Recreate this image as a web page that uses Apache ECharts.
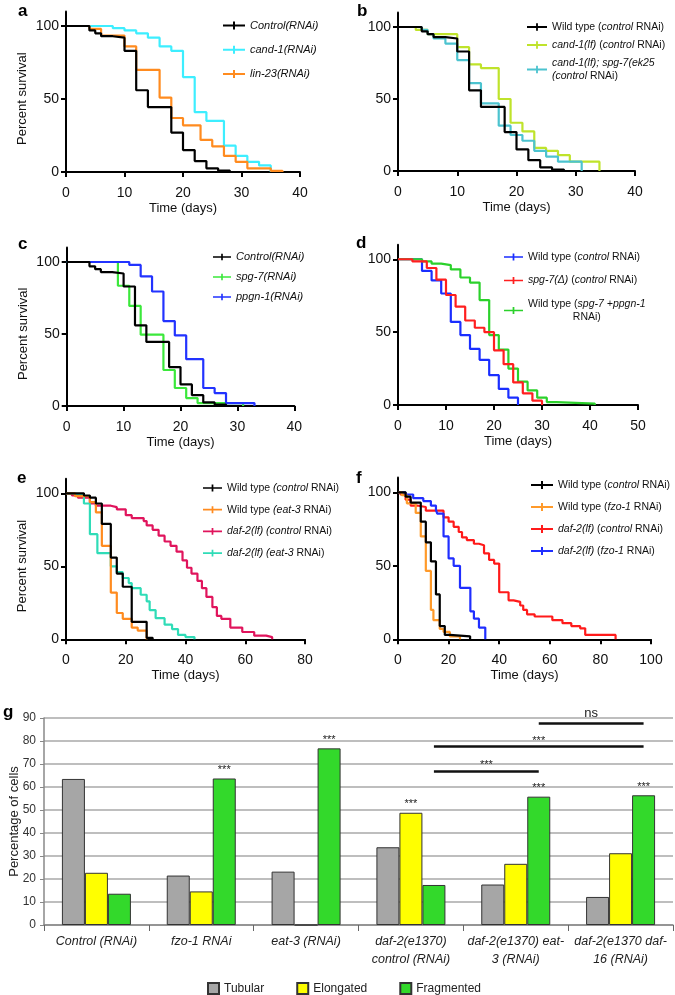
<!DOCTYPE html>
<html><head><meta charset="utf-8">
<script src="https://cdn.jsdelivr.net/npm/echarts@6/dist/echarts.min.js"></script>
<style>html,body{margin:0;padding:0;background:#fff}#c{width:675px;height:995px}</style>
</head><body><div id="c"></div>
<script>
// ---------- DATA: survival curves [day, percent survival] ----------
const controlRNAi = [[0,100],[4,97],[5,95],[6,93],[8,92],[10,83],[12,56],[14,44.5],[18,27],[20,15],[22,7.5],[24,2.5],[26,1],[28,0]];
const cand1RNAi = [[0,100],[8,98.5],[10,97],[12,95],[14,92],[16,86],[18,83],[20,65],[22,41],[24,35],[27,18],[29,11],[31,7],[33,4.5],[35,0]];
const lin23RNAi = [[0,100],[4,98],[6,93.5],[10,86],[12,70],[16,51],[18,37],[20,32],[23,22],[25,17.5],[27,11],[29,7],[31,2.5],[35,0.8],[37,0]];
const cand1lf = [[0,100],[3,98],[5,95],[10,86],[12,74],[14,71.5],[17,50],[19,33.5],[21,27.5],[23,16],[25,14],[27,11],[29,6.5],[34,0]];
const cand1spg7 = [[0,100],[4,98],[5,95],[6,92],[8,88.5],[10,77],[12,61],[14,47],[17,31.5],[19,25],[21,21],[23,14],[25,10],[27,6.5],[31,0]];
const spg7RNAi = [[0,100],[9,83.5],[11,69.5],[13,49.5],[17,25],[19,12.5],[21,5.5],[23,2],[31,0]];
const ppgn1RNAi = [[0,100],[11,98],[13,90],[15,79.5],[17,59],[19,49],[21,32.5],[24,12.5],[26,9],[28,2],[33,0]];
const dWildType = [[0,100],[5,92],[7,85.5],[9,76.5],[11,57],[13,48],[15,38.5],[17,31],[19,20.5],[21,11],[23,5],[25,0]];
const dSpg7Delta = [[0,100],[3,98.5],[6,94],[8,86],[10,75.5],[12,67.5],[14,58],[16,53],[18,50],[20,37.5],[22,28],[24,15.5],[26,8],[28,3],[30,0]];
const dWtSpg7Ppgn1 = [[0,100],[5,98.5],[7,97],[9,96],[11,93],[13,87.5],[15,84],[17,72],[19,48],[21,38],[23,25],[25,16],[27,10],[29,5],[31,2],[33,1],[41,0]];
const eWtControl = [[0,100],[6,98.5],[8,97],[10,93],[12,79],[15,56],[17,45],[19,36],[22,12],[27,1],[29,0]];
const eWtEat3 = [[0,100],[3,98],[8,94],[10,87],[12,64],[15,32],[17,18],[19,14],[22,8],[24,6],[27,0]];
const eDaf2Control = [[0,100],[2,98.5],[4,97],[8,93],[10,91.5],[15,90.5],[17,89],[20,85],[22,83],[26,81],[27,78],[29,75],[31,71],[33,67],[35,64],[37,60],[39,54],[40.5,49],[42,45],[44,40],[45.5,35],[47,29],[49,22],[50.5,16],[52,14],[55,8],[59,5],[63,2.5],[67,1.5],[69,0]];
const eDaf2Eat3 = [[0,100],[2,99],[6,93],[8,72],[10.5,59],[15,50],[17,46],[19,42],[21,38.5],[22,35],[25,30.5],[27,26],[28,20],[30,14.5],[33,10],[35.5,7],[37.5,3],[40,1.5],[43,0]];
const fWtControl = [[0,100],[3,97],[5,93],[9,80],[11,66],[13,53],[15,30.5],[16.5,9],[18.5,3],[20.5,2],[28.5,0]];
const fWtFzo1 = [[0,100],[1.5,98],[3.5,92.5],[7,86],[9,70],[11,46.5],[13,20],[14,13],[16.5,7],[18,5],[20.5,2],[24.5,0]];
const fDaf2Control = [[0,100],[1,98.5],[3,95],[5,91],[7.5,90],[11,87.5],[18,83],[20,80],[22,76.5],[24,73],[25.3,69.3],[27.2,67.5],[30,65],[32,64],[34,58.5],[36,54],[38,51.5],[40,32],[43.7,26.5],[45.7,25.5],[48.3,23],[49.5,20],[51,17],[54,15.5],[61,13],[65,11],[68.5,9],[72,7.5],[74,3],[86,0]];
const fDaf2Fzo1 = [[0,100],[3,98.5],[6,96],[10,94],[13,91],[15,88],[15.5,85.5],[18,70],[20,55],[22,50],[24.5,35],[28.6,19],[30,14],[32,8],[34.5,0]];

// ---------- DATA: bar chart (panel g) ----------
const barCategories = ['Control (RNAi)', 'fzo-1 RNAi', 'eat-3 (RNAi)', 'daf-2(e1370)\ncontrol (RNAi)', 'daf-2(e1370) eat-\n3 (RNAi)', 'daf-2(e1370 daf-\n16 (RNAi)'];
const tubular = [63.5, 21.5, 23.2, 33.8, 17.6, 12.2];
const elongated = [22.7, 14.6, 0, 48.8, 26.6, 31.2];
const fragmented = [13.6, 63.7, 76.8, 17.4, 55.8, 56.4];
const sigElongated = ['', '', '', '***', '', ''];
const sigFragmented = ['', '***', '***', '', '***', '***'];
const brackets = [
  {from: 3, to: 4, y: 67, text: '***'},
  {from: 3, to: 5, y: 77.8, text: '***'},
  {from: 4, to: 5, y: 87.8, text: 'ns'}
];
const survivalTicks = [0, 50, 100];

// ---------- STYLE / LAYOUT ----------
const FONT = "'Liberation Sans', Arial, Helvetica, sans-serif";
const panels = [
  {letter:'a', grid:{left:66, top:11.4, width:234, height:160.6}, xMax:40, xInt:10, yName:true,
   legend:{left:223, top:19, gap:11.3, w:22, fs:11},
   curves:[['a1',controlRNAi,'#000000','{i|Control(RNAi)}',5],['a2',cand1RNAi,'#3deeff','{i|cand-1(RNAi)}',3],['a3',lin23RNAi,'#ff8b1f','{i|lin-23(RNAi)}',4]]},
  {letter:'b', grid:{left:398, top:12.6, width:237, height:158.4}, xMax:40, xInt:10, yName:false,
   legend:{left:527, top:20.5, gap:5, w:20, fs:10.5},
   curves:[['b1',controlRNAi,'#000000','{n|Wild type (}{i|control}{n| RNAi)}',5],['b2',cand1lf,'#bfe32b','{i|cand-1(lf)}{n| (}{i|control}{n| RNAi)}',3],['b3',cand1spg7,'#4cc3cf','{i|cand-1(lf); spg-7(ek25}\n{i|(control}{n| RNAi)}',4]]},
  {letter:'c', grid:{left:66.7, top:247.6, width:227.6, height:158.4}, xMax:40, xInt:10, yName:true,
   legend:{left:213, top:250.5, gap:7, w:18, fs:11},
   curves:[['c1',controlRNAi,'#000000','{i|Control(RNAi)}',5],['c2',spg7RNAi,'#3be83b','{i|spg-7(RNAi)}',3],['c3',ppgn1RNAi,'#2233ff','{i|ppgn-1(RNAi)}',4]]},
  {letter:'d', grid:{left:398, top:244.7, width:240, height:160.3}, xMax:50, xInt:10, yName:false,
   legend:{left:504, top:250.5, gap:10.5, w:19, fs:10.5},
   curves:[['d1',dWildType,'#1a2eff','{n|Wild type (}{i|control}{n| RNAi)}',3],['d2',dSpg7Delta,'#ff1f1f','{i|spg-7(Δ)}{n| (}{i|control}{n| RNAi)}',4],['d3',dWtSpg7Ppgn1,'#2bd12b','{n|Wild type (}{i|spg-7 +ppgn-1}\n{c|RNAi)}',3]]},
  {letter:'e', grid:{left:66, top:478.7, width:239, height:160.6}, xMax:80, xInt:20, yName:true,
   legend:{left:203, top:481.5, gap:8.7, w:19, fs:10.5},
   curves:[['e1',eWtControl,'#000000','{n|Wild type }{i|(control}{n| RNAi)}',5],['e2',eWtEat3,'#ff8b1f','{n|Wild type }{i|(eat-3}{n| RNAi)}',4],['e3',eDaf2Control,'#e0145c','{i|daf-2(lf) (control}{n| RNAi)}',3],['e4',eDaf2Eat3,'#2fdcb7','{i|daf-2(lf) (eat-3}{n| RNAi)}',3]]},
  {letter:'f', grid:{left:398, top:477.6, width:253, height:161.7}, xMax:100, xInt:20, yName:false,
   legend:{left:531, top:478.5, gap:9, w:22, fs:10.5},
   curves:[['f1',fWtControl,'#000000','{n|Wild type (}{i|control}{n| RNAi)}',5],['f2',fWtFzo1,'#ff9a2a','{n|Wild type (}{i|fzo-1}{n| RNAi)}',4],['f3',fDaf2Control,'#ff1a1a','{i|daf-2(lf)}{n| (}{i|control}{n| RNAi)}',3],['f4',fDaf2Fzo1,'#1f2eff','{i|daf-2(lf)}{n| (}{i|fzo-1}{n| RNAi)}',3]]}
];
const letterPos = {a:[18,2.5], b:[357,2.5], c:[18,235.5], d:[356,234.5], e:[17,470], f:[356,469.5], g:[3,704]};

const labelMap = {};
const grids = [], xAxes = [], yAxes = [], series = [], legends = [], graphics = [];
const tickLine = {color:'#000', width:2};

panels.forEach((p, idx) => {
  grids.push(Object.assign({containLabel:false, outerBoundsMode:'none'}, p.grid));
  xAxes.push({type:'value', gridIndex:idx, min:0, max:p.xMax, interval:p.xInt,
    name:'Time (days)', nameLocation:'middle', nameGap:30, nameMoveOverlap:false,
    nameTextStyle:{fontSize:13, color:'#111', fontFamily:FONT},
    axisLine:{show:true, onZero:false, lineStyle:tickLine},
    axisTick:{show:true, length:5, lineStyle:tickLine},
    axisLabel:{fontSize:14, color:'#111', margin:14, fontFamily:FONT},
    splitLine:{show:false}});
  yAxes.push({type:'value', gridIndex:idx, min:0, max:110,
    name: p.yName ? 'Percent survival' : '', nameLocation:'middle', nameGap:37, nameRotate:90, nameMoveOverlap:false,
    nameTextStyle:{fontSize:13, color:'#111', fontFamily:FONT, padding:[0,14,0,0]},
    axisLine:{show:true, onZero:false, lineStyle:tickLine},
    axisTick:{show:true, length:5, lineStyle:tickLine, customValues:survivalTicks},
    axisLabel:{fontSize:14, color:'#111', margin:7, fontFamily:FONT, customValues:survivalTicks},
    splitLine:{show:false}});
  p.curves.forEach(c => {
    labelMap[c[0]] = c[3];
    series.push({type:'line', name:c[0], xAxisIndex:idx, yAxisIndex:idx, data:c[1], step:'end',
      showSymbol:false, symbol:'none', z:c[4],
      lineStyle:{color:c[2], width:2.2}, itemStyle:{color:c[2]}});
  });
  const L = p.legend, fs = L.fs;
  legends.push({show:true, orient:'vertical', left:L.left, top:L.top, padding:0, itemGap:L.gap,
    itemWidth:L.w, itemHeight:8, selectedMode:false,
    icon:'path://M0,3 L10,3 L10,0 L12,0 L12,3 L22,3 L22,5 L12,5 L12,8 L10,8 L10,5 L0,5 Z',
    data:p.curves.map(c => c[0]),
    formatter: name => labelMap[name],
    textStyle:{fontSize:fs, color:'#111', fontFamily:FONT, lineHeight:13,
      rich:{n:{fontSize:fs, color:'#111', fontFamily:FONT, lineHeight:13},
            i:{fontSize:fs, color:'#111', fontFamily:FONT, fontStyle:'italic', lineHeight:13},
            c:{fontSize:fs, color:'#111', fontFamily:FONT, lineHeight:13, align:'center'}}}});
});

// ---------- panel g ----------
const gi = panels.length;
grids.push({left:44, top:718, width:629, height:207, containLabel:false, outerBoundsMode:'none'});
xAxes.push({type:'category', gridIndex:gi, data:barCategories,
  axisLine:{show:true, lineStyle:{color:'#888', width:1.5}},
  axisTick:{show:true, alignWithLabel:false, length:6, lineStyle:{color:'#666', width:1}},
  axisLabel:{interval:0, fontSize:12.5, fontStyle:'italic', color:'#222', lineHeight:18, margin:8, fontFamily:FONT},
  splitLine:{show:false}});
yAxes.push({type:'value', gridIndex:gi, min:0, max:90, interval:10,
  name:'Percentage of cells', nameLocation:'middle', nameGap:23, nameRotate:90, nameMoveOverlap:false,
  nameTextStyle:{fontSize:13, color:'#222', fontFamily:FONT},
  axisLine:{show:true, lineStyle:{color:'#888', width:1.5}},
  axisTick:{show:true, length:4, lineStyle:{color:'#888'}},
  axisLabel:{fontSize:12, color:'#333', margin:8, fontFamily:FONT},
  splitLine:{show:true, lineStyle:{color:'#a8a8a8', width:1.5}}});

const sigLabel = {show:true, position:'top', distance:3, fontSize:11, color:'#222', fontFamily:FONT};
function withSig(vals, sig) {
  return vals.map((v, i) => sig && sig[i] ? {value:v, label:Object.assign({formatter:sig[i]}, sigLabel)} : v);
}
const barBase = {type:'bar', xAxisIndex:gi, yAxisIndex:gi, barWidth:23, barGap:'0%'};
series.push(Object.assign({name:'Tubular', data:tubular,
  itemStyle:{color:'#a6a6a6', borderColor:'#333', borderWidth:1}}, barBase));
series.push(Object.assign({name:'Elongated', data:withSig(elongated, sigElongated),
  itemStyle:{color:'#ffff00', borderColor:'#333', borderWidth:1}}, barBase));
series.push(Object.assign({name:'Fragmented', data:withSig(fragmented, sigFragmented),
  itemStyle:{color:'#33d92b', borderColor:'#333', borderWidth:1},
  markLine:{symbol:'none', silent:true, animation:false,
    lineStyle:{color:'#111', width:2.5, type:'solid'},
    data:brackets.map(b => [
      {coord:[b.from, b.y], name:b.text,
       label:{show:true, position:'middle', formatter:'{b}', color:'#222', fontFamily:FONT,
              fontSize: b.text === 'ns' ? 13 : 11, distance: b.text === 'ns' ? 3 : 0}},
      {coord:[b.to, b.y]}])}}, barBase));
legends.push({show:true, orient:'horizontal', left:207, top:982, padding:0, itemGap:32,
  itemWidth:11, itemHeight:11, icon:'rect', selectedMode:false,
  data:['Tubular','Elongated','Fragmented'],
  textStyle:{fontSize:12, color:'#222', fontFamily:FONT}});

Object.keys(letterPos).forEach(k => {
  graphics.push({type:'text', left:letterPos[k][0], top:letterPos[k][1],
    style:{text:k, fontSize:17, fontWeight:'bold', fill:'#000', fontFamily:FONT}});
});

const chart = echarts.init(document.getElementById('c'), null, {renderer:'canvas'});
chart.setOption({animation:false, backgroundColor:'#fff',
  grid:grids, xAxis:xAxes, yAxis:yAxes, series:series, legend:legends, graphic:graphics});
</script></body></html>
